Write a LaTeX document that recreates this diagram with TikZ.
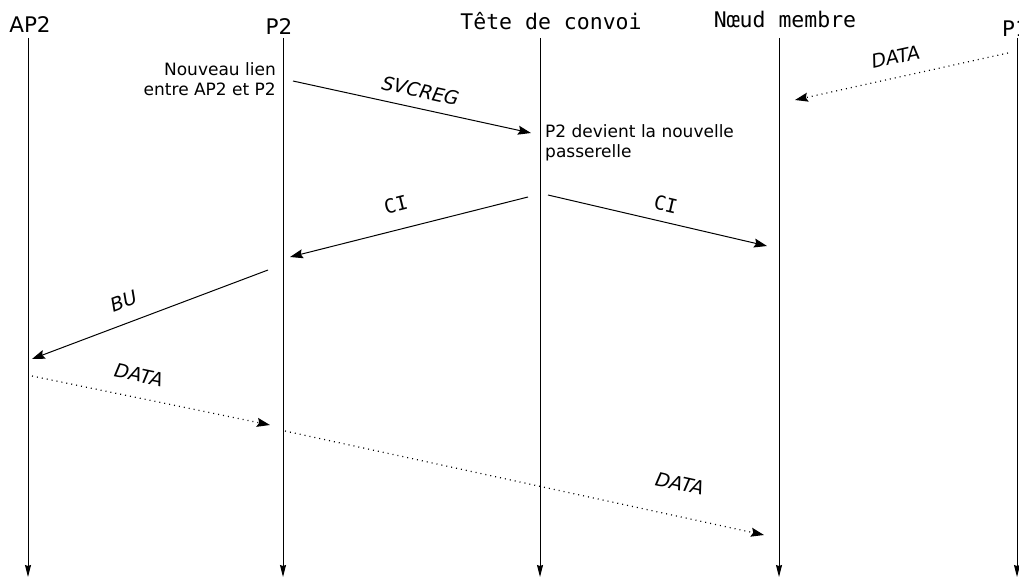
\documentclass[tikz,border=0pt]{standalone}
\usepackage{fontspec}
\setmainfont{DejaVu Sans}
\setmonofont{DejaVu Sans Mono}
\usetikzlibrary{arrows.meta}
\tikzset{
    actor/.style={
        anchor=base,
        inner sep=0pt,
        font=\fontsize{21.5}{26}\selectfont
    },
    monoactor/.style={
        actor,
        font=\fontsize{21.5}{26}\selectfont\ttfamily
    },
    lifeline/.style={
        -{Stealth[length=12pt, width=6pt, inset=1pt]},
        line width=1pt
    },
    msg/.style={
        -{Stealth[length=13pt, width=9pt, inset=2pt]},
        line width=1pt
    },
    datamsg/.style={
        msg,
        line width=1.2pt,
        dash pattern=on 1pt off 4pt
    },
    lbl/.style={
        sloped,
        inner sep=0pt,
        font=\fontsize{19}{22}\selectfont\itshape
    },
    monolbl/.style={
        sloped,
        inner sep=0pt,
        font=\fontsize{19.5}{22}\selectfont\ttfamily
    },
    note/.style={
        inner sep=0pt,
        font=\fontsize{17}{20}\selectfont
    }
}

\begin{document}
\begin{tikzpicture}[x=1pt, y=-1pt]

\useasboundingbox (0,0) rectangle (1019,578);

% participants
\node[actor] (ap2) at (30,33) {AP2};
\node[actor] (p2) at (279,35) {P2};
\node[monoactor] (tete) at (551,30) {Tête de convoi};
\node[monoactor] (noeud) at (785,28) {Nœud membre};
\node[monoactor] (p1) at (1015,37) {P1};

% lifelines
\coordinate (ap2-top) at (28,38);
\coordinate (ap2-bot) at (28,577);
\coordinate (p2-top) at (283,38);
\coordinate (p2-bot) at (283,577);
\coordinate (tete-top) at (540,38);
\coordinate (tete-bot) at (540,577);
\coordinate (noeud-top) at (779,38);
\coordinate (noeud-bot) at (779,577);
\coordinate (p1-top) at (1017,38);
\coordinate (p1-bot) at (1017,577);

\draw[lifeline] (ap2-top) -- (ap2-bot);
\draw[lifeline] (p2-top) -- (p2-bot);
\draw[lifeline] (tete-top) -- (tete-bot);
\draw[lifeline] (noeud-top) -- (noeud-bot);
\draw[lifeline] (p1-top) -- (p1-bot);

% messages
\coordinate (data1-a) at (1008,53);
\coordinate (data1-b) at (795,100);
\coordinate (svcreg-a) at (293,81);
\coordinate (svcreg-b) at (531,133);
\coordinate (ci1-a) at (528,197);
\coordinate (ci1-b) at (290,257);
\coordinate (ci2-a) at (548,195);
\coordinate (ci2-b) at (767,246);
\coordinate (bu-a) at (268,270);
\coordinate (bu-b) at (32,359);
\coordinate (data2-a) at (32,376);
\coordinate (data2-b) at (270,425);
\coordinate (data3-a) at (285,431);
\coordinate (data3-b) at (764,535);

\draw[datamsg] (data1-a) -- node[lbl, pos=0.507, above=13pt] (data1) {DATA} (data1-b);
\draw[msg] (svcreg-a) -- node[lbl, pos=0.52, above=10pt] (svcreg) {SVCREG} (svcreg-b);
\draw[msg] (ci1-a) -- node[monolbl, pos=0.53, above=17pt] (ci1) {CI} (ci1-b);
\draw[msg] (ci2-a) -- node[monolbl, pos=0.52, above=9.5pt] (ci2) {CI} (ci2-b);
\draw[msg] (bu-a) -- node[lbl, pos=0.58, above=14pt] (bu) {BU} (bu-b);
\draw[datamsg] (data2-a) -- node[lbl, pos=0.43, above=15pt] (data2) {DATA} (data2-b);
\draw[datamsg] (data3-a) -- node[lbl, pos=0.81, above=25pt] (data3) {DATA} (data3-b);

% notes
\node[note, anchor=north east, align=right] (newlink) at (276,62) {Nouveau lien\\entre AP2 et P2};
\node[note, anchor=north west, align=left] (gateway) at (545,124) {P2 devient la nouvelle\\passerelle};

\end{tikzpicture}
\end{document}
